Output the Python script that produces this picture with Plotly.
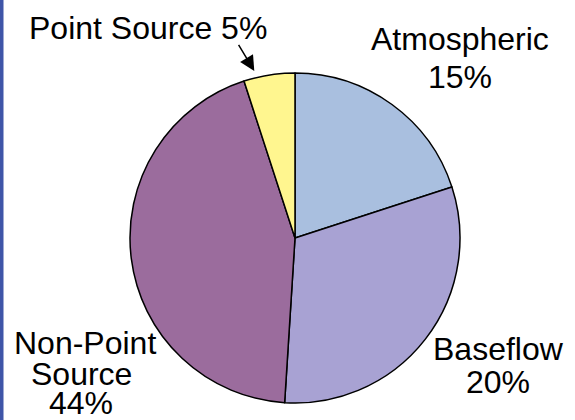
import plotly.graph_objects as go

W, H = 575, 420

# Data
categories = ["Atmospheric", "Baseflow", "Non-Point Source", "Point Source"]
slice_values = [20, 31, 44, 5]          # slice sizes
label_percents = ["15%", "20%", "44%", "5%"]  # percentages printed on the chart
slice_colors = ["#a9bfdf", "#a8a2d3", "#9b6c9d", "#fff68f"]

def px(x):
    return x / W

def py(y):
    return 1 - y / H

fig = go.Figure()
fig.add_trace(go.Pie(
    labels=categories,
    values=slice_values,
    sort=False,
    direction="clockwise",
    rotation=0,
    textinfo="none",
    hoverinfo="label+percent",
    marker=dict(colors=slice_colors, line=dict(color="#000000", width=1.5)),
    domain=dict(x=[px(130), px(460)], y=[py(403), py(73)]),
    showlegend=False,
))

FONT = dict(family="Liberation Sans, Arial, sans-serif", size=32, color="#000000")
OFF = 11.1  # baseline -> box centre offset

# (text, centre x px, baseline y px)
lines = [
    (f"{categories[3]} {label_percents[3]}", 147.5, 39.5),
    (categories[0], 459.5, 50),
    (label_percents[0], 460, 88.3),
    ("Non-Point", 84.5, 354.3),
    ("Source", 81.7, 385),
    (label_percents[2], 80.8, 414.5),
    (categories[1], 498.3, 360),
    (label_percents[1], 497.5, 392.7),
]

annotations = []
for t, cx, by in lines:
    annotations.append(dict(
        text=t, x=px(cx), y=py(by - OFF), xref="paper", yref="paper",
        xanchor="center", yanchor="middle", showarrow=False, font=FONT,
    ))

# Arrow pointing to the Point Source slice
annotations.append(dict(
    text="", x=px(254.3), y=py(71), xref="paper", yref="paper",
    showarrow=True, ax=-16.6, ay=-27.7, axref="pixel", ayref="pixel",
    arrowhead=2, arrowsize=2, arrowwidth=1.5, arrowcolor="#000000",
))

fig.update_layout(
    width=W, height=H,
    margin=dict(l=0, r=0, t=0, b=0),
    paper_bgcolor="#ffffff",
    plot_bgcolor="#ffffff",
    annotations=annotations,
    shapes=[dict(type="rect", xref="paper", yref="paper", x0=0, x1=px(3.5), y0=0, y1=1,
                 fillcolor="#3f55a8", line=dict(width=0), layer="above")],
)

fig.write_html("out.html")
